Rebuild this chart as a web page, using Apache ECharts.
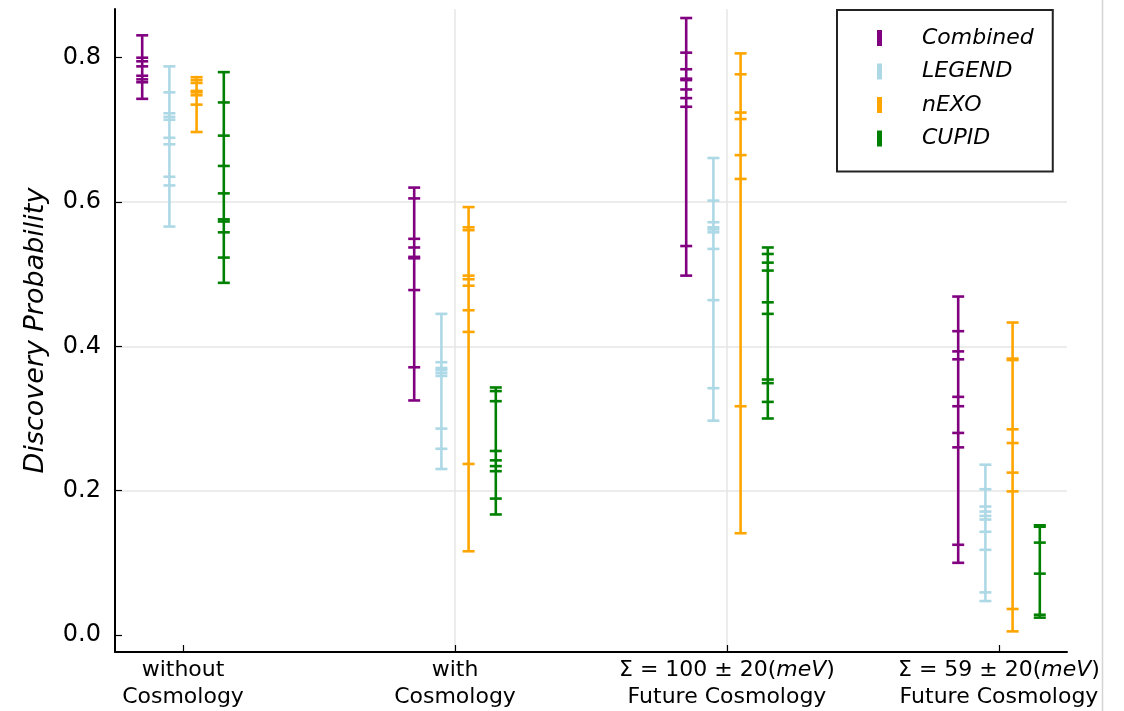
<!DOCTYPE html>
<html>
<head>
<meta charset="utf-8">
<script src="https://cdn.jsdelivr.net/npm/echarts@6/dist/echarts.min.js"></script>
<style>html,body{margin:0;padding:0;background:#fff}#c{width:1124px;height:711px}</style>
</head>
<body>
<div id="c"></div>
<script>
// ---- data ----
const categories = ["without\nCosmology", "with\nCosmology", "Σ = 100 ± 20(meV)\nFuture Cosmology", "Σ = 59 ± 20(meV)\nFuture Cosmology"];
const seriesNames = ["Combined", "LEGEND", "nEXO", "CUPID"];
const yTicks = [0, 0.2, 0.4, 0.6, 0.8];

const combined = [
  [0.831, 0.800, 0.795, 0.788, 0.775, 0.770, 0.766, 0.743],
  [0.620, 0.605, 0.549, 0.537, 0.524, 0.522, 0.478, 0.371, 0.325],
  [0.855, 0.807, 0.784, 0.771, 0.769, 0.756, 0.744, 0.732, 0.539, 0.498],
  [0.469, 0.421, 0.393, 0.382, 0.330, 0.317, 0.280, 0.260, 0.125, 0.100]
];
const legendExp = [
  [0.788, 0.752, 0.723, 0.718, 0.714, 0.689, 0.680, 0.635, 0.623, 0.566],
  [0.445, 0.378, 0.370, 0.367, 0.363, 0.359, 0.286, 0.258, 0.230],
  [0.661, 0.602, 0.572, 0.565, 0.562, 0.558, 0.535, 0.464, 0.342, 0.297],
  [0.236, 0.202, 0.178, 0.171, 0.165, 0.160, 0.143, 0.118, 0.059, 0.047]
];
const nexo = [
  [0.773, 0.769, 0.765, 0.754, 0.752, 0.748, 0.735, 0.697],
  [0.593, 0.565, 0.561, 0.498, 0.493, 0.484, 0.450, 0.420, 0.237, 0.116],
  [0.806, 0.777, 0.724, 0.715, 0.665, 0.632, 0.317, 0.141],
  [0.433, 0.383, 0.381, 0.285, 0.266, 0.225, 0.199, 0.036, 0.005]
];
const cupid = [
  [0.780, 0.738, 0.692, 0.650, 0.612, 0.576, 0.573, 0.558, 0.523, 0.488],
  [0.343, 0.338, 0.324, 0.255, 0.242, 0.234, 0.227, 0.189, 0.167],
  [0.537, 0.528, 0.516, 0.505, 0.461, 0.445, 0.354, 0.349, 0.323, 0.300],
  [0.152, 0.150, 0.128, 0.085, 0.028, 0.024]
];

// ---- styling ----
const allData = [combined, legendExp, nexo, cupid];
const colors = ["#800080", "#add8e6", "#ffa500", "#008000"];
const offsets = [-0.15, -0.05, 0.05, 0.15];
const FONT = "DejaVu Sans";

function makeSeries(si) {
  const groups = allData[si];
  const data = groups.map((vals, ci) => [ci + 1 + offsets[si], Math.min(...vals), Math.max(...vals)]);
  const color = colors[si];
  return {
    name: seriesNames[si],
    type: "custom",
    color: color,
    encode: { x: 0, y: [1, 2] },
    data: data,
    renderItem: function (params, api) {
      const x = api.value(0);
      const top = api.coord([x, api.value(2)]);
      const bot = api.coord([x, api.value(1)]);
      const children = [{
        type: "line",
        shape: { x1: top[0], y1: top[1], x2: bot[0], y2: bot[1] },
        style: { stroke: color, lineWidth: 2.6 }
      }];
      groups[params.dataIndex].forEach(v => {
        const p = api.coord([x, v]);
        children.push({
          type: "line",
          shape: { x1: p[0] - 6, y1: p[1], x2: p[0] + 6, y2: p[1] },
          style: { stroke: color, lineWidth: 2.6 }
        });
      });
      return { type: "group", children: children };
    }
  };
}

function esc(s) { return s; }

const chart = echarts.init(document.getElementById("c"), null, { renderer: "canvas" });
chart.setOption({
  animation: false,
  backgroundColor: "#fff",
  grid: { left: 115, top: 9, width: 952, height: 643, containLabel: false },
  xAxis: {
    type: "value",
    min: 0.75, max: 4.25, splitNumber: 4,
    axisLine: { show: true, onZero: false, lineStyle: { color: "#000", width: 2 } },
    axisTick: { show: true, inside: true, length: 7, customValues: [1, 2, 3, 4], lineStyle: { color: "#000", width: 1.2 } },
    axisLabel: {
      customValues: [1, 2, 3, 4],
      margin: 5,
      formatter: function (v) {
        const s = categories[Math.round(v) - 1] || "";
        const lines = s.split("\n");
        const first = "{n|" + lines[0].replace("(meV)", "(}{i|meV}{n|)") + "}";
        return first + "\n{n|" + lines[1] + "}";
      },
      rich: {
        n: { fontFamily: FONT, fontSize: 22, color: "#000", lineHeight: 27 },
        i: { fontFamily: FONT, fontSize: 22, color: "#000", lineHeight: 27, fontStyle: "italic" }
      }
    },
    splitLine: { show: true, showMinLine: false, showMaxLine: false, lineStyle: { color: "#e6e6e6", width: 1.5 } }
  },
  yAxis: {
    type: "value",
    min: -0.0236, max: 0.8675, splitNumber: 5,
    name: "Discovery Probability",
    nameLocation: "middle",
    nameGap: 66,
    nameRotate: 90,
    nameTextStyle: { fontFamily: FONT, fontSize: 27, fontStyle: "italic", color: "#000" },
    axisLine: { show: true, onZero: false, lineStyle: { color: "#000", width: 2 } },
    axisTick: { show: true, inside: true, length: 7, customValues: yTicks, lineStyle: { color: "#000", width: 1.2 } },
    axisLabel: {
      customValues: yTicks,
      margin: 14,
      fontFamily: FONT, fontSize: 24, color: "#000",
      formatter: v => v.toFixed(1)
    },
    splitLine: { show: true, showMinLine: false, showMaxLine: false, lineStyle: { color: "#e6e6e6", width: 1.5 } }
  },
  legend: {
    data: seriesNames.map(n => ({ name: n, icon: "rect" })),
    orient: "vertical",
    left: 837, top: 10,
    padding: [17, 19, 22, 40],
    itemWidth: 5, itemHeight: 16,
    itemGap: 11.5,
    backgroundColor: "#fff",
    borderColor: "#222", borderWidth: 2,
    textStyle: { fontFamily: FONT, fontSize: 22, fontStyle: "italic", color: "#000", lineHeight: 22, padding: [0, 0, 0, 35] }
  },
  graphic: [{
    type: "line", silent: true,
    shape: { x1: 1102.5, y1: 0, x2: 1102.5, y2: 711 },
    style: { stroke: "#d4d4d4", lineWidth: 1.5 }
  }],
  series: [0, 1, 2, 3].map(makeSeries)
});
</script>
</body>
</html>
